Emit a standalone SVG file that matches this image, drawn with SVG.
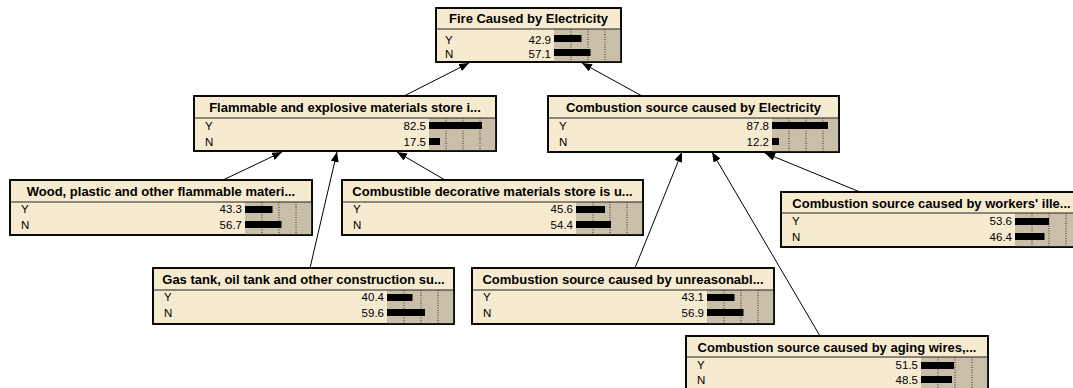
<svg xmlns="http://www.w3.org/2000/svg" width="1073" height="388" viewBox="0 0 1073 388">
  <defs>
    <marker id="arrow" viewBox="0 0 10 8" markerWidth="10" markerHeight="8" refX="10" refY="4" orient="auto" markerUnits="userSpaceOnUse">
      <path d="M0,0 L10,4 L0,8 z" fill="#000"/>
    </marker>
  </defs>
  <style>
    .body { fill: #f6ebd0; stroke: #000; stroke-width: 1.6; }
    .frame { fill: none; stroke: #000; stroke-width: 1.6; }
    .sep { stroke: #222; stroke-width: 1; }
    .meter { fill: #c9bfa9; }
    .grid { stroke: #333; stroke-width: 1; stroke-dasharray: 1 1.5; }
    .bar { fill: #000; }
    .title { font-family: "Liberation Sans", Arial, sans-serif; font-size: 13px; font-weight: bold; fill: #000; text-anchor: middle; }
    .state { font-family: "Liberation Sans", Arial, sans-serif; font-size: 11.5px; fill: #000; }
    .val { font-family: "Liberation Sans", Arial, sans-serif; font-size: 11.5px; fill: #000; text-anchor: end; }
    .edge { stroke: #000; stroke-width: 1; fill: none; marker-end: url(#arrow); }
  </style>
  <rect width="1073" height="388" fill="#fff"/>

  <!-- links from each cause up to its effect -->
  <g id="connectors">
    <line class="edge" x1="404" y1="96" x2="469" y2="63"/>
    <line class="edge" x1="642" y1="96" x2="582" y2="63"/>
    <line class="edge" x1="223" y1="180" x2="282" y2="152"/>
    <line class="edge" x1="445" y1="180" x2="397" y2="152"/>
    <line class="edge" x1="310" y1="268" x2="337" y2="152"/>
    <line class="edge" x1="635" y1="268" x2="682" y2="152"/>
    <line class="edge" x1="820" y1="336" x2="712" y2="152"/>
    <line class="edge" x1="860" y1="192" x2="765" y2="153"/>
  </g>

  <!-- root node: meter region 67px wide, bar scale about 0.64px per percent -->
  <g id="fire-caused-by-electricity" transform="translate(436,8)">
    <rect class="body" x="0" y="0" width="185" height="54"/>
    <rect class="meter" x="118" y="21" width="67" height="33"/>
    <line class="sep" x1="0" y1="21" x2="185" y2="21"/>
    <line class="grid" x1="135" y1="21" x2="135" y2="54"/>
    <line class="grid" x1="152" y1="21" x2="152" y2="54"/>
    <line class="grid" x1="169" y1="21" x2="169" y2="54"/>
    <rect class="frame" x="0" y="0" width="185" height="54"/>
    <text class="title" x="92.5" y="15">Fire Caused by Electricity</text>
    <text class="state" x="9" y="36">Y</text>
    <text class="val" x="115" y="36">42.9</text>
    <rect class="bar" x="118" y="27" width="27.5" height="7"/>
    <text class="state" x="9" y="50">N</text>
    <text class="val" x="115" y="50">57.1</text>
    <rect class="bar" x="118" y="41" width="36.5" height="7"/>
  </g>

  <g id="flammable-explosive-store" transform="translate(194,96)">
    <rect class="body" x="0" y="0" width="302" height="55"/>
    <rect class="meter" x="235" y="22" width="67" height="33"/>
    <line class="sep" x1="0" y1="22" x2="302" y2="22"/>
    <line class="grid" x1="252" y1="22" x2="252" y2="55"/>
    <line class="grid" x1="269" y1="22" x2="269" y2="55"/>
    <line class="grid" x1="286" y1="22" x2="286" y2="55"/>
    <rect class="frame" x="0" y="0" width="302" height="55"/>
    <text class="title" x="151" y="16">Flammable and explosive materials store i...</text>
    <text class="state" x="11" y="34">Y</text>
    <text class="val" x="232" y="34">82.5</text>
    <rect class="bar" x="235" y="26" width="53" height="7"/>
    <text class="state" x="11" y="50">N</text>
    <text class="val" x="232" y="50">17.5</text>
    <rect class="bar" x="235" y="42" width="11" height="7"/>
  </g>

  <g id="combustion-by-electricity" transform="translate(548,96)">
    <rect class="body" x="0" y="0" width="291" height="56"/>
    <rect class="meter" x="224" y="22" width="67" height="34"/>
    <line class="sep" x1="0" y1="22" x2="291" y2="22"/>
    <line class="grid" x1="241" y1="22" x2="241" y2="56"/>
    <line class="grid" x1="258" y1="22" x2="258" y2="56"/>
    <line class="grid" x1="275" y1="22" x2="275" y2="56"/>
    <rect class="frame" x="0" y="0" width="291" height="56"/>
    <text class="title" x="145.5" y="16">Combustion source caused by Electricity</text>
    <text class="state" x="11" y="34">Y</text>
    <text class="val" x="221" y="34">87.8</text>
    <rect class="bar" x="224" y="26" width="56" height="7"/>
    <text class="state" x="11" y="50">N</text>
    <text class="val" x="221" y="50">12.2</text>
    <rect class="bar" x="224" y="42" width="7" height="7"/>
  </g>

  <g id="wood-plastic-flammables" transform="translate(10,180)">
    <rect class="body" x="0" y="0" width="302" height="55"/>
    <rect class="meter" x="235" y="22" width="67" height="33"/>
    <line class="sep" x1="0" y1="22" x2="302" y2="22"/>
    <line class="grid" x1="252" y1="22" x2="252" y2="55"/>
    <line class="grid" x1="269" y1="22" x2="269" y2="55"/>
    <line class="grid" x1="286" y1="22" x2="286" y2="55"/>
    <rect class="frame" x="0" y="0" width="302" height="55"/>
    <text class="title" x="151" y="16">Wood, plastic and other flammable materi...</text>
    <text class="state" x="11" y="33">Y</text>
    <text class="val" x="232" y="33">43.3</text>
    <rect class="bar" x="235" y="26" width="27.5" height="7"/>
    <text class="state" x="11" y="49">N</text>
    <text class="val" x="232" y="49">56.7</text>
    <rect class="bar" x="235" y="41" width="36.5" height="7"/>
  </g>

  <g id="combustible-decorative-store" transform="translate(342,180)">
    <rect class="body" x="0" y="0" width="301" height="55"/>
    <rect class="meter" x="234" y="22" width="67" height="33"/>
    <line class="sep" x1="0" y1="22" x2="301" y2="22"/>
    <line class="grid" x1="251" y1="22" x2="251" y2="55"/>
    <line class="grid" x1="268" y1="22" x2="268" y2="55"/>
    <line class="grid" x1="285" y1="22" x2="285" y2="55"/>
    <rect class="frame" x="0" y="0" width="301" height="55"/>
    <text class="title" x="150.5" y="16">Combustible decorative materials store is u...</text>
    <text class="state" x="11" y="33">Y</text>
    <text class="val" x="231" y="33">45.6</text>
    <rect class="bar" x="234" y="26" width="29" height="7"/>
    <text class="state" x="11" y="49">N</text>
    <text class="val" x="231" y="49">54.4</text>
    <rect class="bar" x="234" y="41" width="35" height="7"/>
  </g>

  <g id="workers-illegal-operation" transform="translate(781,192)">
    <rect class="body" x="0" y="0" width="301" height="55"/>
    <rect class="meter" x="234" y="21" width="67" height="34"/>
    <line class="sep" x1="0" y1="21" x2="301" y2="21"/>
    <line class="grid" x1="251" y1="21" x2="251" y2="55"/>
    <line class="grid" x1="268" y1="21" x2="268" y2="55"/>
    <line class="grid" x1="285" y1="21" x2="285" y2="55"/>
    <rect class="frame" x="0" y="0" width="301" height="55"/>
    <text class="title" x="150.5" y="16">Combustion source caused by workers' ille...</text>
    <text class="state" x="11" y="33">Y</text>
    <text class="val" x="231" y="33">53.6</text>
    <rect class="bar" x="234" y="26" width="34" height="7"/>
    <text class="state" x="11" y="49">N</text>
    <text class="val" x="231" y="49">46.4</text>
    <rect class="bar" x="234" y="41" width="29.5" height="7"/>
  </g>

  <g id="gas-oil-tank-supply" transform="translate(153,268)">
    <rect class="body" x="0" y="0" width="301" height="56"/>
    <rect class="meter" x="234" y="22" width="67" height="34"/>
    <line class="sep" x1="0" y1="22" x2="301" y2="22"/>
    <line class="grid" x1="251" y1="22" x2="251" y2="56"/>
    <line class="grid" x1="268" y1="22" x2="268" y2="56"/>
    <line class="grid" x1="285" y1="22" x2="285" y2="56"/>
    <rect class="frame" x="0" y="0" width="301" height="56"/>
    <text class="title" x="150.5" y="16">Gas tank, oil tank and other construction su...</text>
    <text class="state" x="11" y="33">Y</text>
    <text class="val" x="231" y="33">40.4</text>
    <rect class="bar" x="234" y="26" width="25.5" height="7"/>
    <text class="state" x="11" y="49">N</text>
    <text class="val" x="231" y="49">59.6</text>
    <rect class="bar" x="234" y="41" width="38" height="7"/>
  </g>

  <g id="unreasonable-wiring" transform="translate(472,268)">
    <rect class="body" x="0" y="0" width="302" height="56"/>
    <rect class="meter" x="235" y="22" width="67" height="34"/>
    <line class="sep" x1="0" y1="22" x2="302" y2="22"/>
    <line class="grid" x1="252" y1="22" x2="252" y2="56"/>
    <line class="grid" x1="269" y1="22" x2="269" y2="56"/>
    <line class="grid" x1="286" y1="22" x2="286" y2="56"/>
    <rect class="frame" x="0" y="0" width="302" height="56"/>
    <text class="title" x="151" y="16">Combustion source caused by unreasonabl...</text>
    <text class="state" x="11" y="33">Y</text>
    <text class="val" x="232" y="33">43.1</text>
    <rect class="bar" x="235" y="26" width="27.5" height="7"/>
    <text class="state" x="11" y="49">N</text>
    <text class="val" x="232" y="49">56.9</text>
    <rect class="bar" x="235" y="41" width="36.5" height="7"/>
  </g>

  <g id="aging-wires" transform="translate(686,336)">
    <rect class="body" x="0" y="0" width="302" height="56"/>
    <rect class="meter" x="235" y="21" width="67" height="35"/>
    <line class="sep" x1="0" y1="21" x2="302" y2="21"/>
    <line class="grid" x1="252" y1="21" x2="252" y2="56"/>
    <line class="grid" x1="269" y1="21" x2="269" y2="56"/>
    <line class="grid" x1="286" y1="21" x2="286" y2="56"/>
    <rect class="frame" x="0" y="0" width="302" height="56"/>
    <text class="title" x="151" y="16">Combustion source caused by aging wires,...</text>
    <text class="state" x="11" y="33">Y</text>
    <text class="val" x="232" y="33">51.5</text>
    <rect class="bar" x="235" y="26" width="33" height="7"/>
    <text class="state" x="11" y="48">N</text>
    <text class="val" x="232" y="48">48.5</text>
    <rect class="bar" x="235" y="40" width="31" height="7"/>
  </g>
</svg>
